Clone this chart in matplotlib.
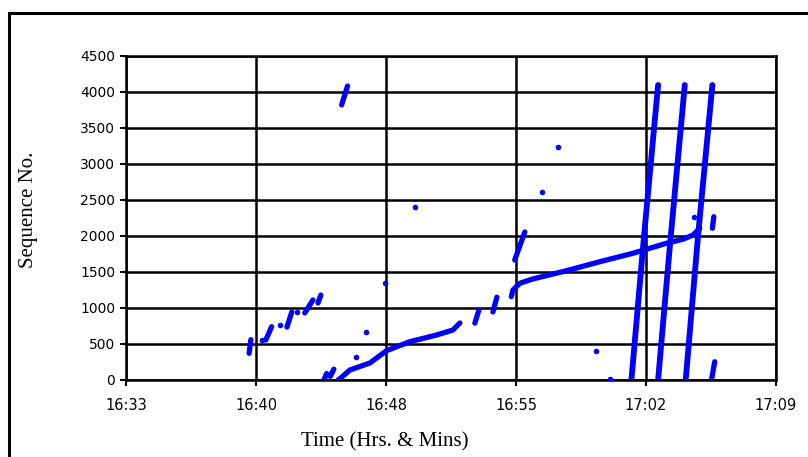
import matplotlib.pyplot as plt
from matplotlib.patches import Rectangle

# time = minutes after 16:00, seq = sequence number
tick_pos = [33.6, 40.8, 48.0, 55.2, 62.4, 69.6]
tick_labels = ['16:33', '16:40', '16:48', '16:55', '17:02', '17:09']
y_ticks = [0, 500, 1000, 1500, 2000, 2500, 3000, 3500, 4000, 4500]

# short bursts (drawn as thick strokes)
burst_a_t = [40.40, 40.50]
burst_a_seq = [370, 560]
burst_b_t = [41.33, 41.65]
burst_b_seq = [556, 740]
burst_c_t = [42.50, 42.77]
burst_c_seq = [735, 945]
burst_d_t = [43.49, 43.94]
burst_d_seq = [931, 1111]
burst_e_t = [44.22, 44.38]
burst_e_seq = [1070, 1180]
burst_f1_t = [44.55, 44.70]
burst_f1_seq = [0, 90]
burst_f2_t = [44.90, 45.10]
burst_f2_seq = [50, 150]
burst_h_t = [52.92, 53.14]
burst_h_seq = [790, 970]
burst_i_t = [53.92, 54.14]
burst_i_seq = [945, 1150]
burst_l_t = [55.13, 55.69]
burst_l_seq = [1667, 2056]
burst_m_t = [45.53, 45.86]
burst_m_seq = [3820, 4083]
burst_n_t = [66.09, 66.17]
burst_n_seq = [2107, 2268]
burst_o_t = [66.04, 66.22]
burst_o_seq = [0, 254]

# slow rising runs
run1_t = [45.34, 45.53, 45.99, 47.10, 48.02, 49.31, 50.80, 51.70, 52.09]
run1_seq = [0, 38, 139, 236, 407, 532, 625, 694, 792]
run2_t = [54.94, 55.03, 55.41, 56.13, 58.00, 59.85, 61.69, 63.54, 64.45, 65.02, 65.39]
run2_seq = [1157, 1250, 1343, 1403, 1518, 1643, 1760, 1899, 1954, 2014, 2107]

# fast runs 0 -> 4100
fast1_t = [61.60, 62.30, 63.08]
fast1_seq = [0, 2000, 4097]
fast2_t = [63.08, 63.73, 64.56]
fast2_seq = [0, 1852, 4097]
fast3_t = [64.61, 65.29, 66.09]
fast3_seq = [0, 1990, 4097]

# isolated packets
dots_t = [41.09, 42.11, 43.05, 46.35, 46.90, 47.93, 49.59, 56.65, 57.52, 59.66, 60.40, 65.06]
dots_seq = [556, 765, 945, 315, 671, 1343, 2407, 2615, 3236, 403, 10, 2268]

blue = '#0000ff'

fig = plt.figure(figsize=(8.08, 4.57), dpi=100)
ax = fig.add_axes([0.1565, 0.1685, 0.8035, 0.709])

bursts = [(burst_a_t, burst_a_seq), (burst_b_t, burst_b_seq), (burst_c_t, burst_c_seq),
          (burst_d_t, burst_d_seq), (burst_e_t, burst_e_seq), (burst_f1_t, burst_f1_seq),
          (burst_f2_t, burst_f2_seq), (burst_h_t, burst_h_seq), (burst_i_t, burst_i_seq),
          (burst_l_t, burst_l_seq), (burst_m_t, burst_m_seq), (burst_n_t, burst_n_seq),
          (burst_o_t, burst_o_seq), (run1_t, run1_seq), (run2_t, run2_seq)]
for t, s in bursts:
    ax.plot(t, s, '-', color=blue, lw=3.8, solid_capstyle='round', solid_joinstyle='round', zorder=3)
for t, s in [(fast1_t, fast1_seq), (fast2_t, fast2_seq), (fast3_t, fast3_seq)]:
    ax.plot(t, s, '-', color=blue, lw=4.2, solid_capstyle='round', zorder=3)
ax.plot(dots_t, dots_seq, 'o', color=blue, ms=4, mec='none', zorder=3)

ax.set_xlim(33.6, 69.6)
ax.set_ylim(0, 4500)
ax.set_xticks(tick_pos)
ax.set_xticklabels(tick_labels, fontsize=10.5, family='DejaVu Sans')
ax.set_yticks(y_ticks)
ax.set_yticklabels([str(v) for v in y_ticks], fontsize=10, family='DejaVu Sans')
ax.tick_params(axis='both', direction='out', length=4, width=1.5, color='black')
ax.tick_params(axis='x', pad=9)
ax.tick_params(axis='y', pad=4)

ax.grid(True, color='black', lw=1.8)
ax.set_axisbelow(True)
for sp in ax.spines.values():
    sp.set_color('black')
    sp.set_linewidth(1.8)

ax.set_xlabel('Time (Hrs. & Mins)', family='Liberation Serif', fontsize=15)
ax.xaxis.set_label_coords(0.398, -0.16)
ax.set_ylabel('Sequence No.', family='Liberation Serif', fontsize=15)
ax.yaxis.set_label_coords(-0.136, 0.525)

# outer frame of the chart area
fig.patches.append(Rectangle((9 / 808, -0.1), 1.2, 0.1 + 1 - 13.5 / 457, transform=fig.transFigure,
                             fill=False, edgecolor='black', lw=2.2, clip_on=False))

plt.savefig('out.png', dpi=100)
